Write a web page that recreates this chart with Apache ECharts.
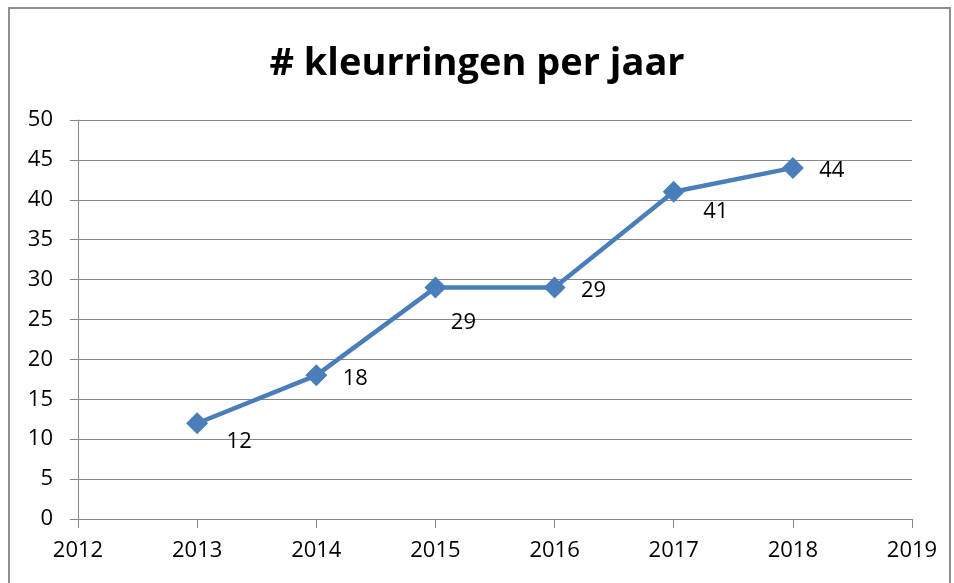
<!DOCTYPE html>
<html>
<head>
<meta charset="utf-8">
<script src="https://cdn.jsdelivr.net/npm/echarts@6/dist/echarts.min.js"></script>
<style>
html,body{margin:0;padding:0;background:#fff;}
#frame{position:absolute;left:8px;top:7px;width:943px;height:620px;border:2px solid #8e8e8e;box-sizing:border-box;pointer-events:none;z-index:2;}
#chart{position:absolute;left:0;top:0;width:954px;height:583px;}
</style>
</head>
<body>
<div id="chart"></div>
<div id="frame"></div>
<script>
const titleText = '# kleurringen per jaar';
const years = [2013, 2014, 2015, 2016, 2017, 2018];
const counts = [12, 18, 29, 29, 41, 44];
const xTicks = {min: 2012, max: 2019, step: 1};
const yTicks = {min: 0, max: 50, step: 5};
// label placement (style, px offsets from marker centre)
const labelOffsets = [[42, 18], [39, 3], [28, 35], [39, 3], [42, 20], [39, 3]];

const chart = echarts.init(document.getElementById('chart'));
const fontFam = '"Open Sans", "Noto Sans", sans-serif';
const axisGray = '#878787';
chart.setOption({
  animation: false,
  title: {
    text: titleText, left: 'center', top: 40,
    textStyle: {fontFamily: fontFam, fontWeight: 'bold', fontSize: 38, color: '#000'}
  },
  grid: {left: 78, right: 42, top: 120, bottom: 64},
  xAxis: {
    type: 'value', min: xTicks.min, max: xTicks.max, interval: xTicks.step,
    axisLine: {show: true, lineStyle: {color: axisGray, width: 1}},
    axisTick: {show: true, length: 9, lineStyle: {color: axisGray}},
    splitLine: {show: false},
    axisLabel: {fontFamily: fontFam, fontSize: 22, color: '#000', margin: 21, formatter: v => String(v)}
  },
  yAxis: {
    type: 'value', min: yTicks.min, max: yTicks.max, interval: yTicks.step,
    axisLine: {show: true, lineStyle: {color: axisGray, width: 1}},
    axisTick: {show: true, length: 8, lineStyle: {color: axisGray}},
    splitLine: {show: true, lineStyle: {color: axisGray, width: 1}},
    axisLabel: {fontFamily: fontFam, fontSize: 22, color: '#000', margin: 25}
  },
  series: [{
    type: 'line',
    data: years.map((y, i) => ({
      value: [y, counts[i]],
      label: {show: true, position: 'inside', offset: labelOffsets[i]}
    })),
    lineStyle: {color: '#4a7ebb', width: 4.5},
    itemStyle: {color: '#4a7ebb'},
    symbol: 'diamond', symbolSize: 22,
    label: {show: true, fontFamily: fontFam, fontSize: 22, color: '#000', formatter: p => String(p.value[1])}
  }]
});
</script>
</body>
</html>
